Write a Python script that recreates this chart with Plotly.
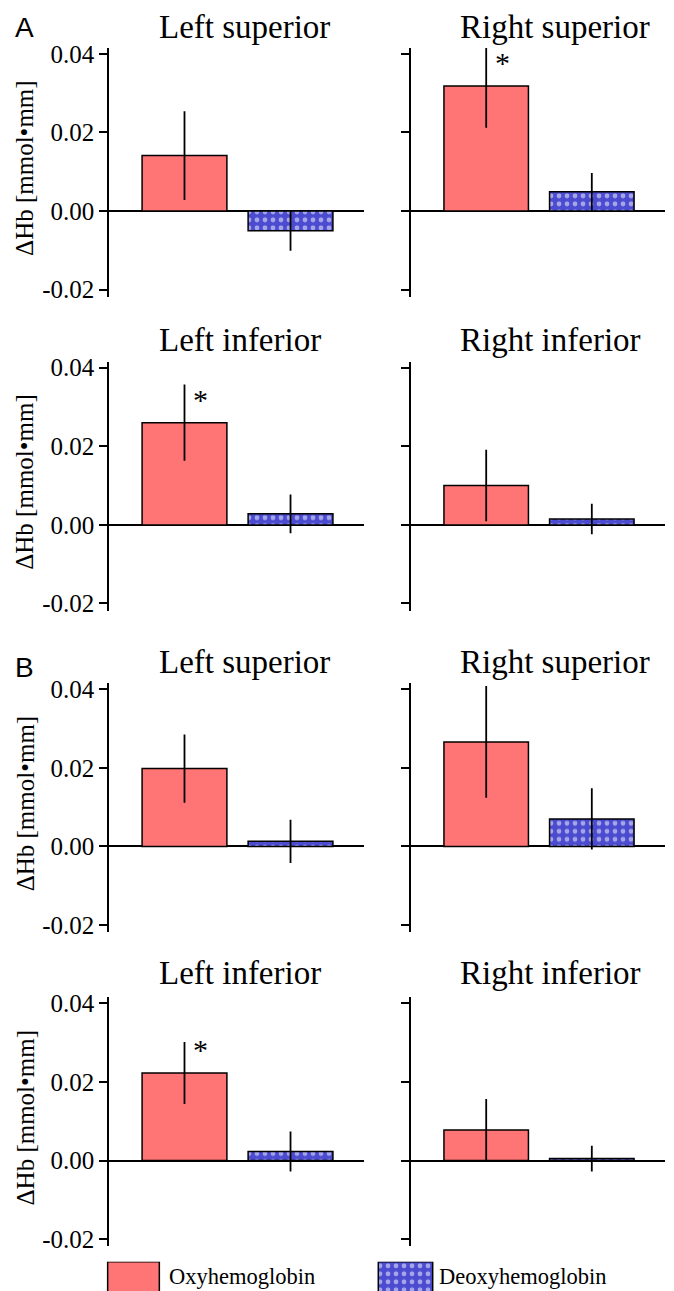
import plotly.graph_objects as go

# ---------------- data ----------------
panel_groups = ["A", "A", "A", "A", "B", "B", "B", "B"]
panel_titles = ["Left superior", "Right superior", "Left inferior", "Right inferior",
                "Left superior", "Right superior", "Left inferior", "Right inferior"]
series_names = ["Oxyhemoglobin", "Deoxyhemoglobin"]
oxy_mean = [0.0141, 0.0318, 0.0260, 0.0100, 0.0198, 0.0266, 0.0223, 0.0078]
oxy_err = [0.0113, 0.0106, 0.0097, 0.0091, 0.0087, 0.0142, 0.0079, 0.0079]
deoxy_mean = [-0.0050, 0.0049, 0.0028, 0.0015, 0.0013, 0.0070, 0.0023, 0.0005]
deoxy_err = [0.0051, 0.0048, 0.0049, 0.0039, 0.0055, 0.0078, 0.0051, 0.0033]
significant = [False, True, True, False, False, False, True, False]
tick_vals = [-0.02, 0.0, 0.02, 0.04]
tick_text = ["-0.02", "0.00", "0.02", "0.04"]
y_title = "ΔHb [mmol•mm]"

# ---------------- style / layout (target picture pixel coordinates) ----------------
PAGE_W, PAGE_H = 674, 1291
OFF = 8                  # default body margin of the html page
CAL_OFF, CAL_SCALE = 8.6, 0.9865   # vertical calibration of the captured picture


def page_y(p):
    return (p - CAL_OFF) / CAL_SCALE


W = PAGE_W - 2 * OFF
H = int(round(page_y(PAGE_H) - OFF))
RED = "#FF7474"
BLUE = "#4B4BD0"
SERIF = "Liberation Serif, Times New Roman, serif"
SANS = "Liberation Sans, Arial, sans-serif"
Y_RANGE = [-0.0218, 0.0415]
X_RANGE = [-0.712, 1.693]
col_px = [(109, 364), (411, 665)]
zero_px = [212, 525, 845.7, 1159]
title_center_px = [28.5, 341, 662, 972]
group_label_px = {0: 28.5, 2: 667.3}
px_per_unit = 78.4 / 0.02


def py(p):
    return 1 - (page_y(p) - OFF) / H


def px(p):
    return (p - OFF) / W


fig = go.Figure()
layout = dict(
    width=W, height=H, margin=dict(l=0, r=0, t=0, b=0),
    paper_bgcolor="white", plot_bgcolor="rgba(0,0,0,0)",
    barmode="overlay", showlegend=False,
    font=dict(family=SERIF, color="black"),
)
annotations = []
PATTERN = dict(shape=".", fgcolor="white", bgcolor=BLUE, size=8, solidity=0.28)

for i in range(8):
    row, col = i // 2, i % 2
    n = i + 1
    z = zero_px[row]
    top = z - Y_RANGE[1] * px_per_unit
    bot = z - Y_RANGE[0] * px_per_unit
    xa, ya = f"x{n}", f"y{n}"
    layout[f"xaxis{n}"] = dict(domain=[px(col_px[col][0]), px(col_px[col][1])],
                               range=X_RANGE, visible=False, anchor=ya, fixedrange=True)
    layout[f"yaxis{n}"] = dict(domain=[py(bot), py(top)], range=Y_RANGE, anchor=xa,
                               showline=True, linecolor="black", linewidth=1.5,
                               ticks="outside", ticklen=8, tickwidth=1.5, tickcolor="black",
                               tickvals=tick_vals, ticktext=tick_text,
                               showticklabels=(col == 0),
                               tickfont=dict(family=SERIF, size=25, color="black"),
                               zeroline=True, zerolinecolor="black", zerolinewidth=1.5,
                               showgrid=False, fixedrange=True)
    fig.add_trace(go.Bar(
        x=[0], y=[oxy_mean[i]], width=0.8, name=series_names[0],
        marker=dict(color=RED, line=dict(color="black", width=1.5)),
        error_y=dict(type="data", array=[oxy_err[i]], color="black", thickness=1.8, width=0),
        xaxis=xa, yaxis=ya, cliponaxis=False))
    fig.add_trace(go.Bar(
        x=[1], y=[deoxy_mean[i]], width=0.8, name=series_names[1],
        marker=dict(color=BLUE, line=dict(color="black", width=1.5), pattern=PATTERN),
        error_y=dict(type="data", array=[deoxy_err[i]], color="black", thickness=1.8, width=0),
        xaxis=xa, yaxis=ya, cliponaxis=False))
    if significant[i]:
        annotations.append(dict(x=0.15, y=oxy_mean[i] + 0.006, xref=xa, yref=ya,
                                text="*", showarrow=False, xanchor="center", yanchor="middle",
                                font=dict(family=SERIF, size=30, color="black")))
    # panel title
    title_x = 157 if col == 0 else 458
    annotations.append(dict(x=px(title_x), y=py(title_center_px[row]), xref="paper", yref="paper",
                            text=panel_titles[i], showarrow=False, xanchor="left", yanchor="middle",
                            font=dict(family=SERIF, size=33, color="black")))
    if col == 0:
        annotations.append(dict(x=px(25), y=py(z - 43), xref="paper", yref="paper",
                                text=y_title, textangle=-90, showarrow=False,
                                xanchor="center", yanchor="middle",
                                font=dict(family=SERIF, size=25, color="black")))
    if col == 0 and row in group_label_px:
        annotations.append(dict(x=px(24), y=py(group_label_px[row]), xref="paper", yref="paper",
                                text=panel_groups[i], showarrow=False, xanchor="center", yanchor="middle",
                                font=dict(family=SANS, size=28, color="black")))

# ---------------- legend swatches (own small axis) ----------------
leg_x = [0, 1]
leg_y = [1, 1]
layout["xaxis9"] = dict(domain=[0, 1], range=[(OFF - 133.5) / 272, (PAGE_W - OFF - 133.5) / 272],
                        visible=False, anchor="y9", fixedrange=True)
layout["yaxis9"] = dict(domain=[0, py(1260)], range=[0, 1], visible=False, anchor="x9", fixedrange=True)
fig.add_trace(go.Bar(x=[leg_x[0]], y=[leg_y[0]], width=0.19, xaxis="x9", yaxis="y9",
                     marker=dict(color=RED, line=dict(color="black", width=1.5)), cliponaxis=False))
fig.add_trace(go.Bar(x=[leg_x[1]], y=[leg_y[1]], width=0.2, xaxis="x9", yaxis="y9",
                     marker=dict(color=BLUE, line=dict(color="black", width=1.5), pattern=PATTERN),
                     cliponaxis=False))
annotations.append(dict(x=px(167), y=py(1274.4), xref="paper", yref="paper", text=series_names[0],
                        showarrow=False, xanchor="left", yanchor="middle",
                        font=dict(family=SERIF, size=22.5, color="black")))
annotations.append(dict(x=px(437), y=py(1274.4), xref="paper", yref="paper", text=series_names[1],
                        showarrow=False, xanchor="left", yanchor="middle",
                        font=dict(family=SERIF, size=22.5, color="black")))

layout["annotations"] = annotations
fig.update_layout(**layout)
fig.write_html("out.html")
